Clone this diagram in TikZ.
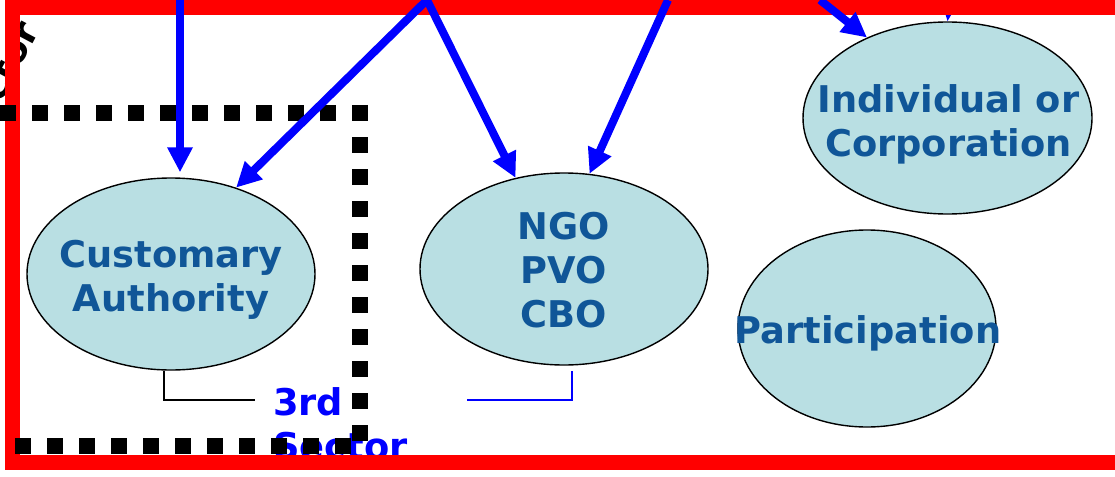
\documentclass[tikz,border=0pt]{standalone}
\usepackage{fontspec}
\newfontfamily\dejab{DejaVu Sans}
\usetikzlibrary{shapes.geometric,arrows.meta}
\definecolor{fillb}{RGB}{185,223,227}
\definecolor{txtb}{RGB}{16,86,152}
\begin{document}
\begin{tikzpicture}[x=1pt,y=-1pt,
  blob/.style={ellipse,draw=black,line width=1.4pt,fill=fillb,inner sep=0pt},
  lbl/.style={font=\dejab\bfseries\fontsize{36.8}{44}\selectfont,text=txtb,align=center,inner sep=0pt},
  sect/.style={font=\dejab\bfseries\fontsize{36.8}{44}\selectfont,text=blue,inner sep=0pt,anchor=base west},
  bigarrow/.style={draw=blue,line width=8pt,-{Triangle[length=25pt,width=24pt]}},
  dots/.style={draw=black,line width=16pt,dash pattern=on 16pt off 16pt}]
\useasboundingbox (0,0) rectangle (1115,476);
% ellipses
\node[blob,minimum width=288pt,minimum height=192pt] (cust) at (171,274) {};
\node[blob,minimum width=288pt,minimum height=192pt] (ngo) at (564,269) {};
\node[blob,minimum width=289pt,minimum height=192pt] (indiv) at (947.5,118) {};
\node[blob,minimum width=258pt,minimum height=197pt] (part) at (867,328.5) {};
% labels
\node[lbl] (custt) at (171,280) {Customary\\Authority};
\node[lbl] (ngot) at (564,270) {NGO\\PVO\\CBO};
\node[lbl] (indivt) at (948.5,124.5) {Individual or\\Corporation};
\node[lbl] (partt) at (868,333.5) {Participation};
% 3rd sector
\node[sect] (third) at (273,415) {3rd};
\node[sect] (sector) at (273,459) {Sector};
% partial rotated text at top left
\node[font=\dejab\bfseries\fontsize{36.8}{44}\selectfont,rotate=62,anchor=base east,inner sep=0pt] (rot) at (40,30) {Sector};
% small arrow into individual
\coordinate (s5) at (950,0);
\draw[blue,line width=2pt,-{Triangle[length=9pt,width=7pt]}] (s5) -- (indiv.north);
% red frame
\draw[red,line width=15pt] (12.5,7.5) rectangle (1140,462.5);
% dotted frame
\draw[dots] (-32,113) -- (368,113);
\draw[dots] (360,105) -- (360,441);
\draw[dots] (15,446) -- (351,446);
% connectors
\coordinate (bkA) at (164,400);
\coordinate (bkB) at (255,400);
\draw[black,line width=1.5pt] (cust.south -| bkA) -- (bkA) -- (bkB);
\coordinate (blA) at (467,400);
\coordinate (blB) at (572,400);
\coordinate (blC) at (572,371);
\draw[blue,line width=1.5pt] (blA) -- (blB) -- (blC);
% big arrows
\coordinate (s1) at (180,0);
\coordinate (s2) at (427,0);
\coordinate (s3) at (668,0);
\coordinate (s4) at (820,0);
\draw[bigarrow,shorten >=5pt] (s1) -- (s1 |- cust.north);
\draw[bigarrow] (s2) -- (cust.53);
\draw[bigarrow] (s2) -- (ngo.118);
\draw[bigarrow] (s3) -- (ngo.75);
\draw[bigarrow] (s4) -- (indiv.135);
\end{tikzpicture}
\end{document}
